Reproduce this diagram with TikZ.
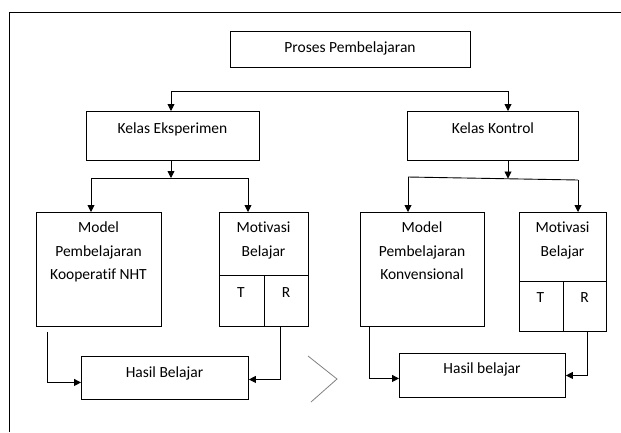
\documentclass[tikz,border=0pt]{standalone}
\usepackage{fontspec}
\setmainfont{Carlito}[Ligatures=NoCommon]
\usetikzlibrary{arrows.meta}
\begin{document}
\begin{tikzpicture}[x=1pt, y=-1pt, line width=0.9pt,
  >={Triangle[length=7pt,width=7pt]},
  box/.style={draw, anchor=north west, inner sep=0pt},
  txt/.style={font=\fontsize{15.5}{23.5}\selectfont, anchor=base, inner sep=0pt, align=center}]
\useasboundingbox (0,0) rectangle (621,432);

% Frame
\draw (9,432) -- (9,12) -- (621,12);

% Boxes
\node[box, minimum width=240, minimum height=36] (proses) at (230,31) {};
\node[box, minimum width=173, minimum height=49] (eksp) at (86,111) {};
\node[box, minimum width=171, minimum height=49] (kontrol) at (407,111) {};
\node[box, minimum width=125, minimum height=114] (nht) at (36,212) {};
\node[box, minimum width=89, minimum height=114] (motiv1) at (219,212) {};
\node[box, minimum width=124, minimum height=114] (konv) at (360,212) {};
\node[box, minimum width=87, minimum height=119] (motiv2) at (519,212) {};
\node[box, minimum width=167, minimum height=43] (hasil1) at (81,356) {};
\node[box, minimum width=166, minimum height=44] (hasil2) at (399,353) {};

% T and R cells
\draw ([shift={(0,63)}]motiv1.north west) -- ([shift={(0,63)}]motiv1.north east);
\draw ([shift={(0,63)}]motiv1.north) -- (motiv1.south);
\draw ([shift={(0,69)}]motiv2.north west) -- ([shift={(0,69)}]motiv2.north east);
\draw ([shift={(0,69)}]motiv2.north) -- (motiv2.south);

% Labels
\node[txt] at (350,52) {Proses Pembelajaran};
\node[txt] at (172.5,133) {Kelas Eksperimen};
\node[txt] at (493,133) {Kelas Kontrol};
\node[txt, anchor=north] at (98.5,221.5) {Model\\Pembelajaran\\Kooperatif NHT};
\node[txt, anchor=north] at (263.5,221.5) {Motivasi\\Belajar};
\node[txt, anchor=north] at (422,221.5) {Model\\Pembelajaran\\Konvensional};
\node[txt, anchor=north] at (562.5,221.5) {Motivasi\\Belajar};
\node[txt] at (241,297) {T};
\node[txt] at (286,297) {R};
\node[txt] at (540.5,302) {T};
\node[txt] at (584.5,302) {R};
\node[txt] at (164.5,377) {Hasil Belajar};
\node[txt] at (482,373) {Hasil belajar};

% Branch points
\coordinate (t1) at (171,91);
\coordinate (t2) at (508,91);
\coordinate (e1) at (91,178);
\coordinate (e2) at (248,178);
\coordinate (k1) at (408,177);
\coordinate (k2) at (578,180);

% Arrows
\draw[<->] (eksp.north -| t1) |- (t2) -- (kontrol.north -| t2);
\draw[->] (eksp.south -| t1) -- (t1 |- e1);
\draw[<->] (nht.north -| e1) -- (e1) -- (e2) -- (motiv1.north -| e2);
\draw[->] (kontrol.south -| t2) -- (508,178.5);
\draw (k1) -- (k2);
\draw[->] (k1) -- (konv.north -| k1);
\draw[->] (k2) -- (motiv2.north -| k2);
\draw[->] ([shift={(11,5)}]nht.south west) |- ([shift={(0,4.5)}]hasil1.west);
\draw[->] ([shift={(-28,0)}]motiv1.south east) |- ([shift={(0,1.5)}]hasil1.east);
\draw[->] ([shift={(9,0)}]konv.south west) |- ([shift={(0,3)}]hasil2.west);
\draw[->] ([shift={(-19,0)}]motiv2.south east) |- (hasil2.east);

% Chevron
\draw[gray, line width=0.8pt] (308,356) -- (337,379) -- (311,402);

\end{tikzpicture}
\end{document}
